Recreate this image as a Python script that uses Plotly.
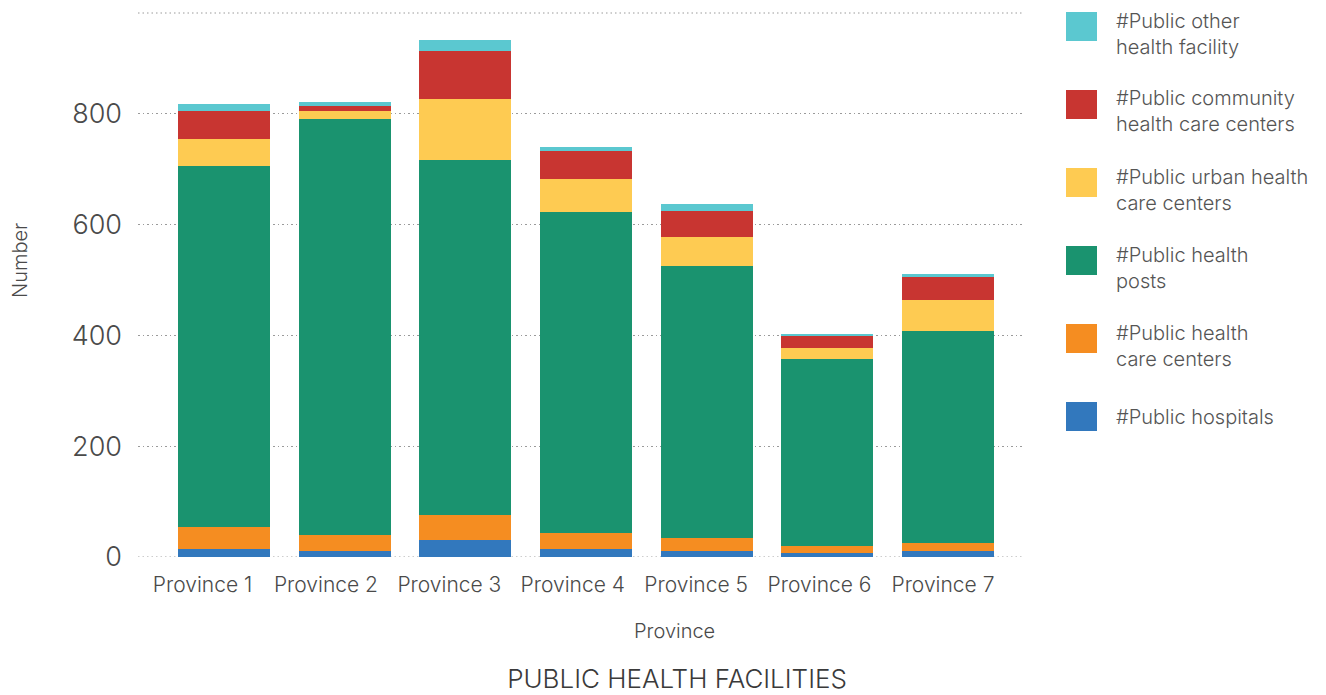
import plotly.graph_objects as go

# Facility counts per province
provinces = ["Province 1", "Province 2", "Province 3", "Province 4",
             "Province 5", "Province 6", "Province 7"]
hospitals = [14, 10, 30, 14, 10, 8, 10]
health_care_centers = [40, 29, 45, 30, 24, 11, 15]
health_posts = [652, 752, 641, 579, 492, 338, 383]
urban_centers = [49, 14, 110, 60, 51, 20, 56]
community_centers = [51, 9, 88, 49, 47, 22, 42]
other_facilities = [11, 7, 20, 9, 13, 4, 5]

# Stacking order, bottom to top
series_names = [
    "#Public hospitals",
    "#Public health<br>care centers",
    "#Public health<br>posts",
    "#Public urban health<br>care centers",
    "#Public community<br>health care centers",
    "#Public other<br>health facility",
]
series_values = [hospitals, health_care_centers, health_posts,
                 urban_centers, community_centers, other_facilities]
series_colors = ["#3278BD", "#F58D21", "#1A936F", "#FECB52", "#C83531", "#5BC8D0"]

FONT = "Inter"
TEXT_GREY = "#4a4a4a"

W, H = 1326, 695
ML, MR, MT, MB = 138, 302, 13, 138
PW, PH = W - ML - MR, H - MT - MB

fig = go.Figure()
for name, vals, col in zip(series_names, series_values, series_colors):
    fig.add_trace(go.Bar(
        x=provinces, y=vals, name=name.replace("<br>", " "),
        marker=dict(color=col, line=dict(width=0)),
        showlegend=False,
    ))

GRID = dict(color="#9a9a9a", width=1, dash="1.5px,3px")


def px_to_paper_x(px):
    return (px - ML) / PW


def px_to_paper_y(py):
    return (H - MB - py) / PH


fig.update_layout(
    width=W, height=H,
    barmode="stack", bargap=0.238,
    plot_bgcolor="white", paper_bgcolor="white",
    margin=dict(l=ML, r=MR, t=MT, b=MB, autoexpand=False),
    font=dict(family=FONT, color=TEXT_GREY, weight=300),
    title=dict(
        text="PUBLIC HEALTH FACILITIES",
        font=dict(family=FONT, size=26, color="#3a3a3a", weight=300),
        xref="container", yref="container",
        x=677 / W, xanchor="center",
        y=1 - 679 / H, yanchor="middle",
    ),
    # category axis carrying the bars
    xaxis=dict(
        range=[-0.713, 6.63],
        showgrid=False, zeroline=False, showline=False,
        ticks="", showticklabels=False,
        fixedrange=True,
    ),
    # label axis for the province names
    xaxis2=dict(
        overlaying="x", anchor="y", side="bottom",
        range=[-0.523, 6.657],
        tickmode="array", tickvals=list(range(len(provinces))), ticktext=provinces,
        showgrid=False, zeroline=False, showline=False,
        ticks="", ticklabelstandoff=13,
        tickfont=dict(family=FONT, size=21, color=TEXT_GREY, weight=300),
        fixedrange=True,
    ),
    yaxis=dict(
        range=[0, 982],
        tickvals=[0, 200, 400, 600, 800],
        showgrid=True, gridcolor=GRID["color"], gridwidth=1, griddash=GRID["dash"],
        zeroline=False, showline=False,
        ticks="", ticklabelstandoff=15,
        tickfont=dict(family=FONT, size=27, color=TEXT_GREY, weight=300),
        fixedrange=True,
    ),
)

# Invisible trace so the label axis is drawn
fig.add_trace(go.Scatter(x=[0], y=[0], xaxis="x2", yaxis="y", mode="markers",
                         marker=dict(opacity=0), showlegend=False, hoverinfo="skip"))

# Axis titles
fig.add_annotation(xref="paper", yref="paper",
                   x=px_to_paper_x(674), y=px_to_paper_y(631),
                   xanchor="center", yanchor="middle", showarrow=False,
                   text="Province",
                   font=dict(family=FONT, size=20, color=TEXT_GREY, weight=300))
fig.add_annotation(xref="paper", yref="paper",
                   x=px_to_paper_x(20), y=px_to_paper_y(261),
                   xanchor="center", yanchor="middle", showarrow=False,
                   text="Number", textangle=-90,
                   font=dict(family=FONT, size=20, color=TEXT_GREY, weight=300))

# Dotted line along the top edge of the plot area
fig.add_shape(type="line", xref="paper", yref="paper", x0=0, x1=1, y0=1, y1=1,
              line=GRID, layer="below")
# Dotted baseline at zero
fig.add_shape(type="line", xref="paper", yref="y", x0=0, x1=1, y0=0, y1=0,
              line=GRID, layer="below")

# Legend: swatches with labels, top entry is the top of the stack
SW_LEFT, SW_W, SW_H = 1066, 31, 29
LABEL_LEFT = 1114
FIRST_TOP, STEP = 12, 78
for i, (name, col) in enumerate(zip(series_names[::-1], series_colors[::-1])):
    top = FIRST_TOP + i * STEP
    fig.add_shape(type="rect", xref="paper", yref="paper",
                  x0=px_to_paper_x(SW_LEFT), x1=px_to_paper_x(SW_LEFT + SW_W),
                  y0=px_to_paper_y(top), y1=px_to_paper_y(top + SW_H),
                  fillcolor=col, line=dict(width=0))
    n_lines = name.count("<br>") + 1
    centre = top + SW_H / 2 + 7 * (n_lines - 1)
    fig.add_annotation(
        xref="paper", yref="paper",
        x=px_to_paper_x(LABEL_LEFT), xanchor="left",
        y=px_to_paper_y(centre), yanchor="middle",
        text=name, showarrow=False, align="left",
        font=dict(family=FONT, size=20, color="#555555", weight=300),
    )

fig.write_html("out.html", config={"displayModeBar": False})
